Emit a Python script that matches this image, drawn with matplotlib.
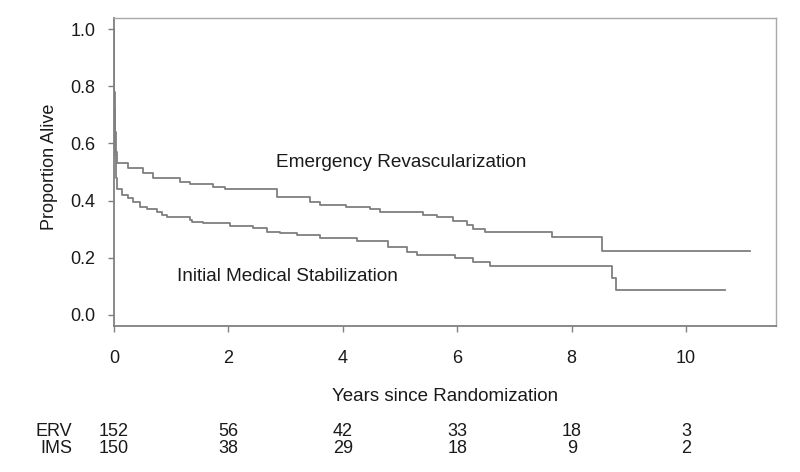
import numpy as np
import matplotlib
matplotlib.use("Agg")
from matplotlib import pyplot as plt

plt.rcParams['font.family'] = ['Liberation Sans', 'DejaVu Sans']

# Kaplan-Meier steps (years, proportion alive)
erv_t = [0, 0.005, 0.015, 0.03, 0.05, 0.24, 0.51, 0.68, 1.15, 1.33, 1.73, 1.94,
         2.85, 3.43, 3.60, 4.05, 4.48, 4.65, 5.40, 5.65, 5.93, 6.17, 6.28, 6.49,
         7.66, 8.53, 11.12]
erv_s = [1.0, 0.78, 0.64, 0.57, 0.531, 0.514, 0.496, 0.479, 0.465, 0.458, 0.448, 0.440,
         0.413, 0.395, 0.385, 0.378, 0.371, 0.360, 0.350, 0.343, 0.329, 0.315, 0.301, 0.290,
         0.273, 0.224, 0.224]

ims_t = [0, 0.005, 0.015, 0.03, 0.06, 0.14, 0.24, 0.33, 0.45, 0.58, 0.75, 0.84, 0.93,
         1.33, 1.36, 1.56, 2.03, 2.43, 2.67, 2.90, 3.20, 3.60, 4.25, 4.79, 5.12, 5.30,
         5.96, 6.28, 6.57, 8.71, 8.78, 10.68]
ims_s = [1.0, 0.72, 0.56, 0.48, 0.44, 0.42, 0.409, 0.395, 0.378, 0.370, 0.360, 0.350, 0.343,
         0.332, 0.325, 0.322, 0.311, 0.304, 0.290, 0.287, 0.280, 0.269, 0.259, 0.238, 0.220, 0.210,
         0.199, 0.185, 0.171, 0.129, 0.087, 0.087]

# numbers at risk
risk_years = [0, 2, 4, 6, 8, 10]
erv_risk = [152, 56, 42, 33, 18, 3]
ims_risk = [150, 38, 29, 18, 9, 2]

fig = plt.figure(figsize=(8, 4.72), dpi=100)
ax = fig.add_axes([0.1425, 0.3093, 0.8275, 0.6525])

line_col = '#7f7f7f'
ax.step(erv_t, erv_s, where='post', color=line_col, lw=1.3)
ax.step(ims_t, ims_s, where='post', color=line_col, lw=1.3)

ax.set_xlim(0, 11.57)
ax.set_ylim(-0.0386, 1.0386)
ax.set_xticks(risk_years)
ax.set_yticks([0.0, 0.2, 0.4, 0.6, 0.8, 1.0])
ax.set_yticklabels(['%.1f' % v for v in [0.0, 0.2, 0.4, 0.6, 0.8, 1.0]])

for s in ['left', 'bottom']:
    ax.spines[s].set_color('#808080')
    ax.spines[s].set_linewidth(1.3)
for s in ['top', 'right']:
    ax.spines[s].set_color('#a8a8a8')
    ax.spines[s].set_linewidth(1.0)

txt = '#1a1a1a'
fs = 13

ax.tick_params(axis='both', direction='out', length=4.3, width=1.0, color='#808080',
               labelsize=fs, labelcolor=txt)
ax.tick_params(axis='x', pad=13)
ax.tick_params(axis='y', pad=9)

ax.set_ylabel('Proportion Alive', fontsize=fs, color=txt)
ax.yaxis.set_label_coords(-0.085, 0.516)
ax.set_xlabel('Years since Randomization', fontsize=13.5, color=txt)
ax.xaxis.set_label_coords(0.5, -0.20)

ax.text(2.83, 0.517, 'Emergency Revascularization', fontsize=13.7, color=txt, va='baseline')
ax.text(1.10, 0.119, 'Initial Medical Stabilization', fontsize=13.7, color=txt, va='baseline')

# number at risk table
tr = ax.get_xaxis_transform()
ax.text(-0.73, -0.344, 'ERV', transform=tr, ha='right', va='center', fontsize=fs,
        color=txt, clip_on=False)
ax.text(-0.73, -0.399, 'IMS', transform=tr, ha='right', va='center', fontsize=fs,
        color=txt, clip_on=False)
for x, a, b in zip(risk_years, erv_risk, ims_risk):
    ax.text(x, -0.344, str(a), transform=tr, ha='center', va='center', fontsize=fs,
            color=txt, clip_on=False)
    ax.text(x, -0.399, str(b), transform=tr, ha='center', va='center', fontsize=fs,
            color=txt, clip_on=False)

fig.savefig('out.png', dpi=100)
